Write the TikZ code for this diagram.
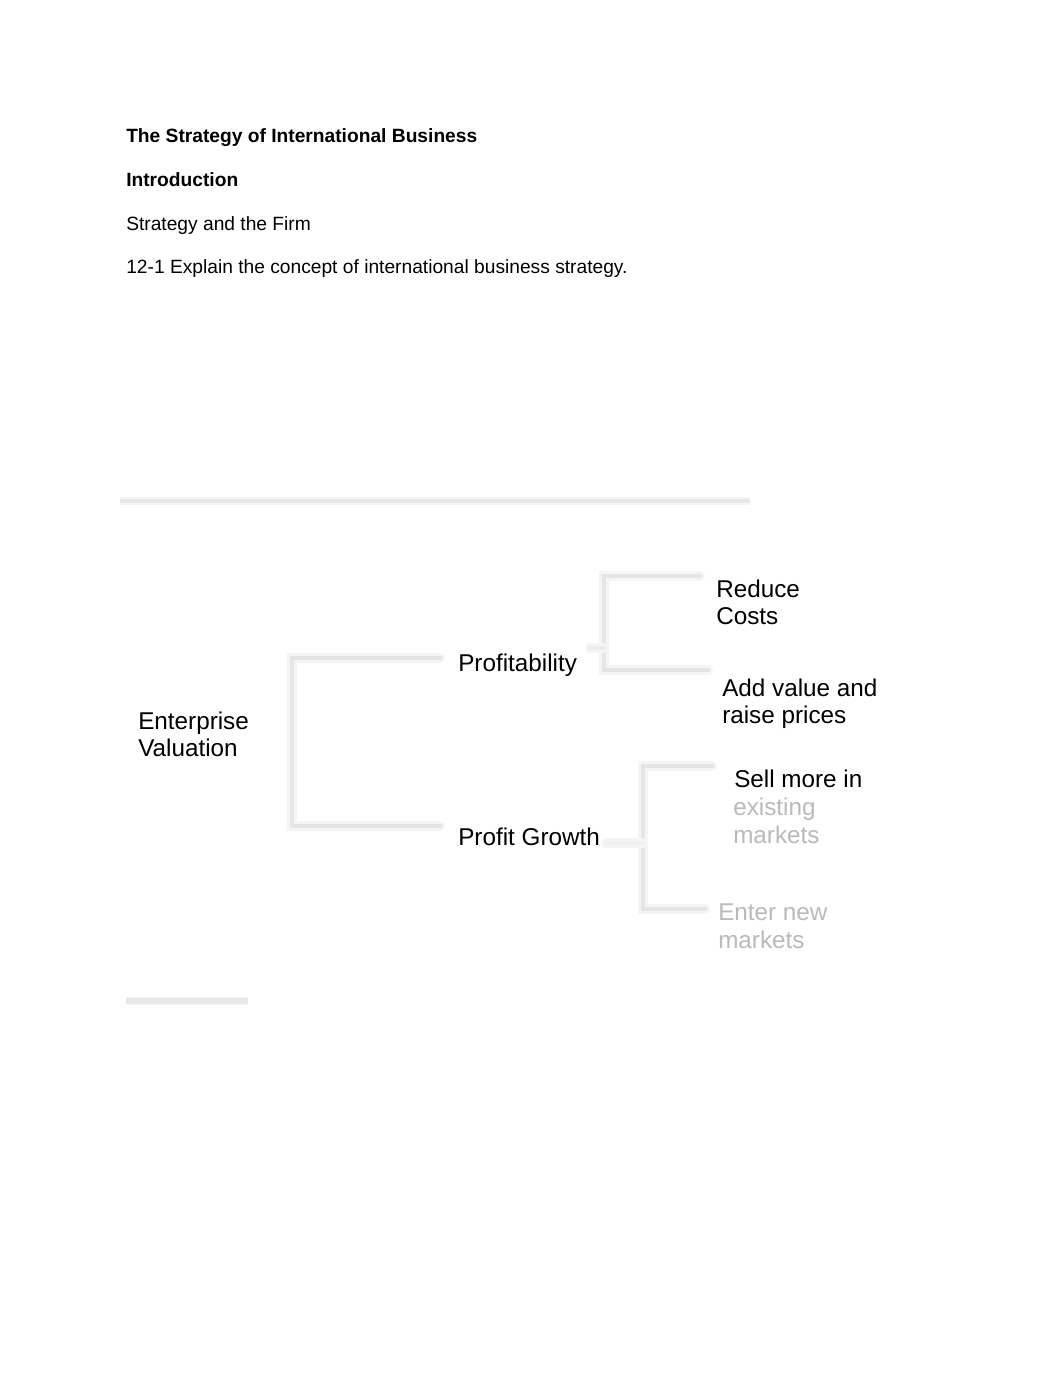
\documentclass[tikz,border=0pt]{standalone}
\usepackage{fontspec}
\setmainfont{Liberation Sans}
\newcommand\hfont{\fontsize{14.4}{17}\selectfont}
\newcommand\dfont{\fontsize{18.2}{20.6}\selectfont}
\begin{document}
\begin{tikzpicture}[x=0.75pt,y=-0.75pt,
  htext/.style={anchor=base west,inner sep=0pt,font=\hfont},
  dtext/.style={anchor=base west,inner sep=0pt,font=\dfont},
  dmulti/.style={anchor=north west,inner sep=0pt,font=\dfont,align=left},
  blurtext/.style={dmulti,text=black!27},
  bline/.style={draw=black!10,line width=3.5pt,line cap=round,
    preaction={draw=black!4,line width=7.5pt,line cap=round}},
  rule/.style={draw=black!9,line width=2.5pt,
    preaction={draw=black!4,line width=6pt}}]
\useasboundingbox[fill=white] (0,0) rectangle (1062,1377);

% header texts
\node[htext] (title) at (126,143) {\bfseries The Strategy of International Business};
\node[htext] (intro) at (126,186) {\bfseries Introduction};
\node[htext] (firm) at (126,230) {Strategy and the Firm};
\node[htext] (obj) at (126,273) {12-1 Explain the concept of international business strategy.};

% faint rules
\coordinate (r1a) at (120,501);
\coordinate (r1b) at (750,501);
\draw[rule] (r1a) -- (r1b);
\coordinate (r2a) at (126,1001);
\coordinate (r2b) at (248,1001);
\draw[rule,line width=4pt] (r2a) -- (r2b);

% diagram nodes
\node[dmulti] (ev) at (138,711.5) {Enterprise\\Valuation};
\node[dtext] (pr) at (458,671) {Profitability};
\node[dtext] (pg) at (458,845) {Profit Growth};
\node[dmulti] (rc) at (716,579.5) {Reduce\\Costs};
\node[dmulti] (av) at (722,678.5) {Add value and\\raise prices};
\node[dmulti] (sm) at (734,769.5) {Sell more in};
\node[blurtext] (smx) at (733,798) {existing\\markets};
\node[blurtext] (en) at (718,904) {Enter new\\markets};

% connectors
\coordinate (b1t) at (440,658);
\coordinate (b1b) at (440,826);
\draw[bline] (b1t) -- (292,658) -- (292,826) -- (b1b);

\coordinate (b2t) at (700,576);
\coordinate (b2b) at (708,670);
\draw[bline] (b2t) -- (604,576) -- (604,670) -- (b2b);
\coordinate (s2) at (590,648);
\draw[bline,draw=black!7] (s2) -- (604,648);

\coordinate (b3t) at (712,766);
\coordinate (b3b) at (705,909);
\draw[bline] (b3t) -- (643,766) -- (643,909) -- (b3b);
\coordinate (s3) at (606,843);
\draw[bline,draw=black!6] (s3) -- (643,843);
\end{tikzpicture}
\end{document}
